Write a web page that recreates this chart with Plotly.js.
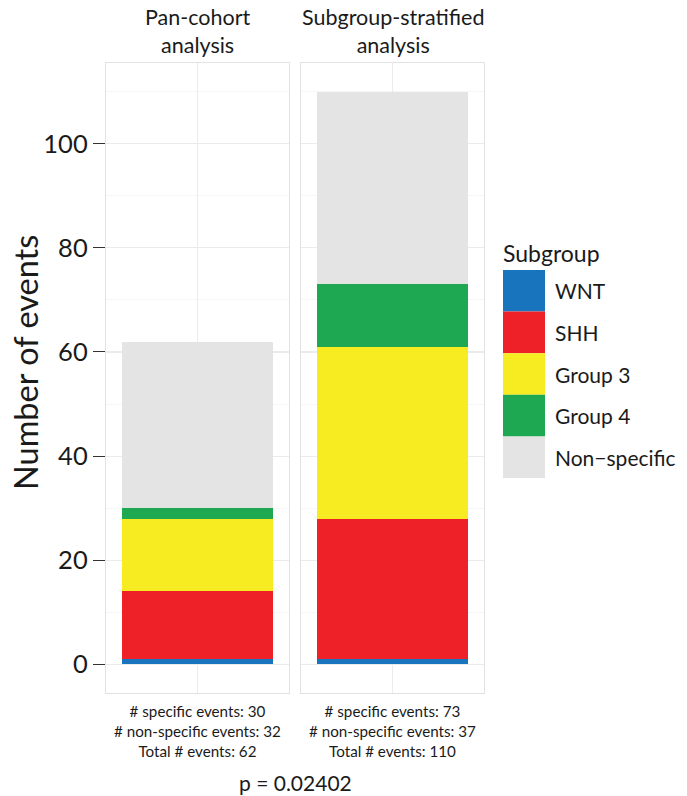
<!DOCTYPE html>
<html>
<head>
<meta charset="utf-8">
<script src="https://cdn.plot.ly/plotly-3.0.1.min.js"></script>
<style>html,body{margin:0;padding:0;background:#fff;}</style>
</head>
<body>
<div id="chart" style="width:687px;height:796px;"></div>
<script>
// Facet panels and the stacked counts per subgroup
const panels = ['Pan-cohort', 'Subgroup-stratified'];
const subgroups = ['WNT', 'SHH', 'Group 3', 'Group 4', 'Non\u2212specific'];
const wnt = [1, 1];
const shh = [13, 27];
const group3 = [14, 33];
const group4 = [2, 12];
const nonSpecific = [32, 37];
const yTickVals = [0, 20, 40, 60, 80, 100];
const pValueText = 'p = 0.02402';

const colors = ['#1874BD', '#EE2128', '#F6EC21', '#1EA852', '#E3E4E3'];
const series = [wnt, shh, group3, group4, nonSpecific];

const W = 687, H = 796;
const px = v => v / W;
const py = v => 1 - v / H;
const FONT = 'Lato, "Open Sans", sans-serif';

const xAxisIds = ['x', 'x2'];
const yAxisIds = ['y', 'y2'];

const traces = [];
series.forEach((vals, s) => {
  panels.forEach((p, i) => {
    traces.push({
      type: 'bar',
      name: subgroups[s],
      x: [p],
      y: [vals[i]],
      xaxis: xAxisIds[i],
      yaxis: yAxisIds[i],
      width: 0.825,
      marker: {color: colors[s], line: {width: 0}},
      showlegend: false,
      hoverinfo: 'name+y'
    });
  });
});

const gridColor = '#EBEBEB';
const minorGrid = '#F6F6F6';
const borderColor = '#E2E2E2';

function xAxis(domain, anchor) {
  return {
    domain: domain, anchor: anchor, type: 'category',
    range: [-0.5, 0.5], showticklabels: false, ticks: '',
    showgrid: true, gridcolor: gridColor, gridwidth: 1.2,
    showline: true, mirror: true, linecolor: borderColor, linewidth: 1.2,
    zeroline: false, fixedrange: true
  };
}
function yAxis(anchor, labels) {
  return {
    domain: [py(693), py(63)], anchor: anchor,
    range: [-5.5, 115.5], tickvals: yTickVals,
    showticklabels: labels, ticks: labels ? 'outside' : '',
    ticklen: 12, tickwidth: 1, tickcolor: '#333',
    tickfont: {family: FONT, size: 25.5, color: '#1a1a1a'},
    showgrid: true, gridcolor: gridColor, gridwidth: 1.2,
    minor: {tickvals: [10, 30, 50, 70, 90, 110], showgrid: true, gridcolor: minorGrid, gridwidth: 1, ticks: ''},
    showline: true, mirror: true, linecolor: borderColor, linewidth: 1.2,
    zeroline: false, fixedrange: true
  };
}

const annotations = [];
const shapes = [];
const panelCenters = [197.5, 392.5];

// Facet strip titles
panels.forEach((p, i) => {
  annotations.push({
    xref: 'paper', yref: 'paper', x: px(panelCenters[i]), y: py(31), xanchor: 'center', yanchor: 'middle',
    text: p + '<br>analysis', showarrow: false,
    font: {family: FONT, size: 21.5, color: '#1a1a1a'}
  });
});

// Event count summaries under each panel
panels.forEach((p, i) => {
  const specific = wnt[i] + shh[i] + group3[i] + group4[i];
  const total = specific + nonSpecific[i];
  annotations.push({
    xref: 'paper', yref: 'paper', x: px(panelCenters[i]), y: py(731), xanchor: 'center', yanchor: 'middle',
    text: '# specific events: ' + specific + '<br># non-specific events: ' + nonSpecific[i] + '<br>Total # events: ' + total,
    showarrow: false, align: 'center',
    font: {family: FONT, size: 15.2, color: '#1a1a1a'}
  });
});

annotations.push({
  xref: 'paper', yref: 'paper', x: px(295), y: py(782), xanchor: 'center', yanchor: 'middle',
  text: pValueText, showarrow: false, font: {family: FONT, size: 21, color: '#1a1a1a'}
});

// Y axis title
annotations.push({
  xref: 'paper', yref: 'paper', x: px(25), y: py(363), xanchor: 'center', yanchor: 'middle',
  text: 'Number of events', textangle: -90, showarrow: false,
  font: {family: FONT, size: 32.5, color: '#1a1a1a'}
});

// Legend
annotations.push({
  xref: 'paper', yref: 'paper', x: px(501), y: py(253), xanchor: 'left', yanchor: 'middle',
  text: 'Subgroup', showarrow: false, font: {family: FONT, size: 23, color: '#1a1a1a'}
});
const keyTop = 270, keyH = 41.6;
subgroups.forEach((g, s) => {
  const y0 = keyTop + s * keyH, y1 = y0 + keyH;
  shapes.push({
    type: 'rect', xref: 'paper', yref: 'paper',
    x0: px(503), x1: px(545), y0: py(y1), y1: py(y0),
    fillcolor: colors[s], line: {width: 0}
  });
  annotations.push({
    xref: 'paper', yref: 'paper', x: px(553), y: py((y0 + y1) / 2), xanchor: 'left', yanchor: 'middle',
    text: g, showarrow: false, font: {family: FONT, size: 21, color: '#1a1a1a'}
  });
});

const layout = {
  width: W, height: H,
  margin: {l: 0, r: 0, t: 0, b: 0},
  paper_bgcolor: '#fff', plot_bgcolor: '#fff',
  barmode: 'stack', bargap: 0,
  showlegend: false,
  xaxis: xAxis([px(106), px(289)], 'y'),
  xaxis2: xAxis([px(301), px(484)], 'y2'),
  yaxis: yAxis('x', true),
  yaxis2: yAxis('x2', false),
  annotations: annotations,
  shapes: shapes
};

Plotly.newPlot('chart', traces, layout, {displayModeBar: false, staticPlot: true});
</script>
</body>
</html>
